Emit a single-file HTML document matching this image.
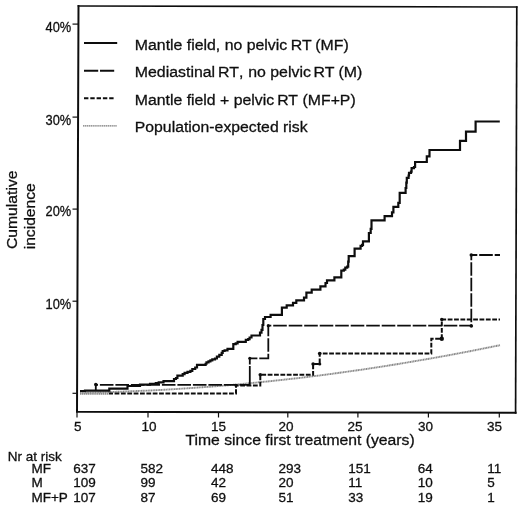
<!DOCTYPE html>
<html><head><meta charset="utf-8"><style>
html,body{margin:0;padding:0;background:#fff;}
body{width:520px;height:506px;overflow:hidden;}
svg{display:block;}
text{font-family:"Liberation Sans",Arial,sans-serif;fill:#111;stroke:#111;stroke-width:0.3px;}
</style></head><body>
<svg width="520" height="506" viewBox="0 0 520 506"><defs><filter id="soft" x="0" y="0" width="1" height="1"><feGaussianBlur stdDeviation="0.3"/></filter></defs><g filter="url(#soft)">
<rect width="520" height="506" fill="#fff"/>
<!-- frame -->
<g stroke="#111" stroke-width="2" fill="none" stroke-linecap="square">
<path d="M78.5 6 L516.8 7" stroke-width="1.6"/>
<path d="M516.8 7 L515.6 412.8" stroke-width="1.7"/>
<path d="M78.5 6 L77 411.8 L515.6 412.8"/>
</g>
<!-- y ticks -->
<g stroke="#111" stroke-width="1.2">
<line x1="72.5" y1="24.1" x2="78" y2="24.1"/>
<line x1="72.5" y1="117.1" x2="78" y2="117.1"/>
<line x1="72.5" y1="209.1" x2="78" y2="209.1"/>
<line x1="72.5" y1="301.2" x2="78" y2="301.2"/>
<line x1="72.5" y1="393.3" x2="77" y2="393.3"/>
</g>
<!-- x ticks -->
<g stroke="#111" stroke-width="1.2">
<line x1="77" y1="412" x2="77" y2="417.5"/>
<line x1="148" y1="412" x2="148" y2="417.5"/>
<line x1="218.5" y1="412" x2="218.5" y2="417.5"/>
<line x1="287.8" y1="412" x2="287.8" y2="417.5"/>
<line x1="357.9" y1="412.5" x2="357.9" y2="417.5"/>
<line x1="428.4" y1="412.5" x2="428.4" y2="417.5"/>
<line x1="499.3" y1="412.5" x2="499.3" y2="417.5"/>
</g>
<!-- y labels -->
<g font-size="14" text-anchor="end">
<text x="71.3" y="32.2" textLength="25.7" lengthAdjust="spacingAndGlyphs">40%</text>
<text x="71.3" y="124.5" textLength="25.7" lengthAdjust="spacingAndGlyphs">30%</text>
<text x="71.3" y="216.3" textLength="25.7" lengthAdjust="spacingAndGlyphs">20%</text>
<text x="71.3" y="308.7" textLength="25.7" lengthAdjust="spacingAndGlyphs">10%</text>
</g>
<!-- x labels -->
<g font-size="13.5" text-anchor="middle">
<text x="77.8" y="431.3">5</text>
<text x="149" y="431.3">10</text>
<text x="218.5" y="431.3">15</text>
<text x="286.1" y="431.3">20</text>
<text x="355.1" y="431.3">25</text>
<text x="425.5" y="431.3">30</text>
<text x="494.6" y="431.3">35</text>
</g>
<text x="185.5" y="445" font-size="15.5" textLength="229.2" lengthAdjust="spacingAndGlyphs">Time since first treatment (years)</text>
<!-- y title -->
<text transform="translate(17.4,249.1) rotate(-90)" font-size="15.5" textLength="78.6" lengthAdjust="spacingAndGlyphs">Cumulative</text>
<text transform="translate(35.3,249.3) rotate(-90)" font-size="15.5" textLength="66" lengthAdjust="spacingAndGlyphs">incidence</text>
<!-- legend -->
<g stroke-width="2" fill="none">
<line x1="84" y1="43" x2="117.2" y2="43" stroke="#111"/>
<line x1="84" y1="70.8" x2="114.5" y2="70.8" stroke="#111" stroke-dasharray="14.2 1.8"/>
<line x1="84" y1="98.3" x2="115" y2="98.3" stroke="#111" stroke-dasharray="4.4 1.9"/>
<line x1="83" y1="125.9" x2="117" y2="125.9" stroke="#777" stroke-width="1.4" stroke-dasharray="1.4 0.5"/>
</g>
<g font-size="15.5">
<text x="134.8" y="49.9" textLength="214" lengthAdjust="spacingAndGlyphs">Mantle field, no pelvic <tspan dx="-0.8">RT</tspan><tspan dx="-0.4"> (MF)</tspan></text>
<text x="134.8" y="77.4" textLength="227.5" lengthAdjust="spacingAndGlyphs">Mediastinal <tspan dx="-1.4">RT</tspan><tspan dx="1.8">,</tspan><tspan dx="0.3"> no pelvic </tspan><tspan dx="-1.8">RT</tspan><tspan dx="0"> (M)</tspan></text>
<text x="134.8" y="105" textLength="220.9" lengthAdjust="spacingAndGlyphs">Mantle field + pelvic <tspan dx="-1.3">RT</tspan><tspan dx="0.5"> (MF+P)</tspan></text>
<text x="134.8" y="131.6" textLength="172.8" lengthAdjust="spacingAndGlyphs">Population-expected risk</text>
</g>
<!-- population curve -->
<polyline fill="none" stroke="#888" stroke-width="1.9" stroke-dasharray="1.2 0.45" points="80,392.6 90,392.5 100,392.3 110,392.0 120,391.7 130,391.3 140,390.9 150,390.5 160,390.0 170,389.4 180,388.8 190,388.1 200,387.4 210,386.7 220,385.9 230,385.1 240,384.2 250,383.2 260,382.2 270,381.2 280,380.1 290,379.0 300,377.9 310,376.6 320,375.4 330,374.1 340,372.7 350,371.3 360,369.9 370,368.4 380,366.9 390,365.3 400,363.7 410,362.0 420,360.3 430,358.6 440,356.8 450,355.0 460,353.1 470,351.2 480,349.2 490,347.2 500,345.2"/>
<!-- MF+P curve -->
<line x1="80" y1="393.6" x2="109" y2="393.6" stroke="#8a8a8a" stroke-width="2.2" stroke-dasharray="1.4 0.5"/>
<path fill="none" stroke="#111" stroke-width="2" stroke-dasharray="4.8 1.56" stroke-dashoffset="0.8" d="M109 393.4 H236 V385.5 H260.3 V374.8 H313.1 V364 H319.7 V353.6 H431.3 V338.8 H441.8 V319.5 H500"/>
<!-- M curve -->
<path fill="none" stroke="#111" stroke-width="1.8" stroke-dasharray="13.6 1.9" stroke-dashoffset="5.3" d="M95.8 391 V384.9 H249.8"/>
<path fill="none" stroke="#111" stroke-width="1.8" stroke-dasharray="18.9 1.5 40 0" d="M249.8 384.9 V358.3"/>
<path fill="none" stroke="#111" stroke-width="1.8" stroke-dasharray="13.6 1.9" stroke-dashoffset="6" d="M249.8 358.3 H268.3 V325.7 H471.3 V255"/>
<path fill="none" stroke="#111" stroke-width="1.8" stroke-dasharray="13.6 1.9" stroke-dashoffset="7.6" d="M471.3 255 H500"/>
<!-- markers -->
<g fill="#111">
<circle cx="95.8" cy="384.6" r="1.8"/>
<circle cx="249.8" cy="358.3" r="1.6"/>
<circle cx="268.3" cy="325.7" r="1.6"/>
<circle cx="471.3" cy="326" r="1.8"/>
<circle cx="471.3" cy="255" r="1.8"/>
<circle cx="236" cy="385.5" r="1.5"/>
<circle cx="260.3" cy="374.8" r="1.8"/>
<circle cx="313.1" cy="364" r="1.8"/>
<circle cx="319.7" cy="364" r="1.6"/>
<circle cx="319.7" cy="353.6" r="1.8"/>
<circle cx="441.8" cy="338.8" r="2.2"/>
<circle cx="441.8" cy="319.5" r="1.8"/>
</g>
<!-- MF curve -->
<path fill="none" stroke="#111" stroke-width="2.2" stroke-linejoin="miter" d="M80 391 H85 V390.7 H109.3 V388.6 H127.5 V386 H140 V384.6 H150 V383.8 H155.8 V383.1 H158.7 V382.4 H163.5 V381.1 H174 V379 H176 V378 H177.4 V375.6 H182.7 V374.2 H184.6 V372.8 H187.5 V371.8 H190.4 V370.9 H192.3 V369 H195.2 V367.5 H197 V364.9 H205.6 V363.75 H206.5 V362.3 H208.5 V361.3 H210.4 V360.4 H212.3 V359.4 H215 V358.5 H216.9 V356.7 H219.3 V354.8 H221.7 V352.9 H222.7 V351 H224.6 V350.3 H227.5 V348.8 H233.3 V344.2 H235.7 V343.3 H237.6 V341.9 H245.8 V339.9 H248.2 V339.2 H249.6 V337.5 H251.5 V335.5 H260 V332.7 H261.5 V329.8 H262.5 V325 H263.3 V319 H265 V317 H270.6 V314.8 H281.9 V307.7 H286.7 V305.4 H293 V302.9 H296.3 V300.3 H304 V297.6 H306.4 V292.6 H311.7 V289.6 H320.4 V286.4 H325.5 V283 H327 V280.4 H334.4 V277.4 H341.3 V270.6 H343.8 V269.6 H345.3 V267.6 H347.2 V266.6 H348.2 V261.7 H348.7 V256.2 H354.6 V248.7 H360.6 V245.9 H362.1 V244.9 H363 V241.4 H368.9 V233 H370.7 V228.8 H371.5 V220.4 H384.6 V216.2 H392 V212.3 H393.4 V206.8 H398.3 V202.8 H399.7 V192.8 H405.6 V188 H406.3 V182.7 H406.8 V177.9 H408.6 V175.5 H409 V172.8 H411 V171.7 H411.6 V168.2 H414 V167 H415.1 V162 H426.8 V156.3 H429.5 V150 H460 V140.9 H466 V131.7 H475.6 V121.5 H499.8"/>
<!-- at risk table -->
<g font-size="13.5">
<text x="7.7" y="460.8">Nr at risk</text>
<text x="31.4" y="473">MF</text>
<text x="31.4" y="487.3">M</text>
<text x="31.4" y="501.8">MF+P</text>
</g>
<g font-size="13.5">
<text x="73.3" y="473">637</text><text x="140.5" y="473">582</text><text x="211" y="473">448</text><text x="278.5" y="473">293</text><text x="348.2" y="473">151</text><text x="417.7" y="473">64</text><text x="487.2" y="473">11</text>
<text x="73.3" y="487.3">109</text><text x="140.5" y="487.3">99</text><text x="211" y="487.3">42</text><text x="278.5" y="487.3">20</text><text x="348.2" y="487.3">11</text><text x="417.7" y="487.3">10</text><text x="487.2" y="487.3">5</text>
<text x="73.3" y="501.8">107</text><text x="140.5" y="501.8">87</text><text x="211" y="501.8">69</text><text x="278.5" y="501.8">51</text><text x="348.2" y="501.8">33</text><text x="417.7" y="501.8">19</text><text x="487.2" y="501.8">1</text>
</g>
</g></svg>
</body></html>
